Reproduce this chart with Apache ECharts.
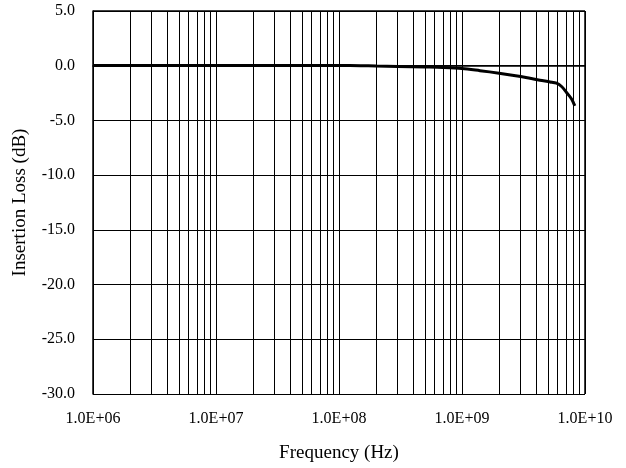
<!DOCTYPE html>
<html><head><meta charset="utf-8">
<script src="https://cdn.jsdelivr.net/npm/echarts@6/dist/echarts.min.js"></script>
<style>html,body{margin:0;padding:0;background:#fff}#c{width:626px;height:468px}</style>
</head><body><div id="c"></div>
<script>
const frequencyHz = [1e6, 2e6, 5e6, 1e7, 2e7, 5e7, 1e8, 1.5e8, 2e8, 3e8, 5e8, 7e8, 1e9, 1.4e9, 2e9, 3e9, 3.56e9, 4.3e9, 5.2e9, 5.87e9, 6.45e9, 7.08e9, 7.8e9, 8.26e9];
const insertionLossDb = [0.03, 0.03, 0.03, 0.03, 0.03, 0.03, 0.02, 0.0, -0.03, -0.07, -0.12, -0.16, -0.25, -0.45, -0.68, -0.98, -1.14, -1.32, -1.48, -1.6, -1.9, -2.45, -3.06, -3.67];
const minorGridFreqs = [];
for (let d = 6; d < 10; d++) for (let m = 2; m <= 9; m++) minorGridFreqs.push(m * Math.pow(10, d));

const font = 'Liberation Serif';
const chart = echarts.init(document.getElementById('c'));
chart.setOption({
  animation: false,
  backgroundColor: '#fff',
  grid: { left: 93, right: 41, top: 11, bottom: 73, containLabel: false },
  xAxis: {
    type: 'log', logBase: 10, min: 1e6, max: 1e10,
    name: 'Frequency (Hz)', nameLocation: 'middle', nameGap: 50,
    nameTextStyle: { fontFamily: font, fontSize: 19, color: '#000' },
    axisLine: { show: true, lineStyle: { color: '#000', width: 1.5 } },
    axisTick: { show: false },
    axisLabel: { margin: 17, fontFamily: font, fontSize: 16, color: '#000',
      formatter: v => '1.0E+' + String(Math.round(Math.log10(v))).padStart(2, '0') },
    splitLine: { show: true, lineStyle: { color: '#000', width: 1 } }
  },
  yAxis: {
    type: 'value', min: -30, max: 5, interval: 5,
    name: 'Insertion Loss (dB)', nameLocation: 'middle', nameGap: 63,
    nameTextStyle: { fontFamily: font, fontSize: 19, color: '#000' },
    axisLine: { show: true, onZero: false, lineStyle: { color: '#000', width: 1.5 } },
    axisTick: { show: false },
    axisLabel: { margin: 18, fontFamily: font, fontSize: 16, color: '#000',
      formatter: v => v.toFixed(1) },
    splitLine: { show: true, lineStyle: { color: '#000', width: 1 } }
  },
  series: [
    {
      type: 'line',
      data: frequencyHz.map((f, i) => [f, insertionLossDb[i]]),
      showSymbol: false, smooth: 0.3,
      lineStyle: { color: '#000', width: 3 },
      z: 5,
      markLine: {
        silent: true, symbol: 'none', label: { show: false },
        lineStyle: { color: '#000', width: 1, type: 'solid' },
        data: minorGridFreqs.map(f => ({ xAxis: f }))
      }
    },
    {
      type: 'line', data: [], silent: true,
      markLine: {
        silent: true, symbol: 'none', label: { show: false },
        lineStyle: { color: '#000', width: 1.5, type: 'solid' },
        data: [{ yAxis: 5 }, { xAxis: 1e10 }]
      }
    }
  ]
});
</script></body></html>
